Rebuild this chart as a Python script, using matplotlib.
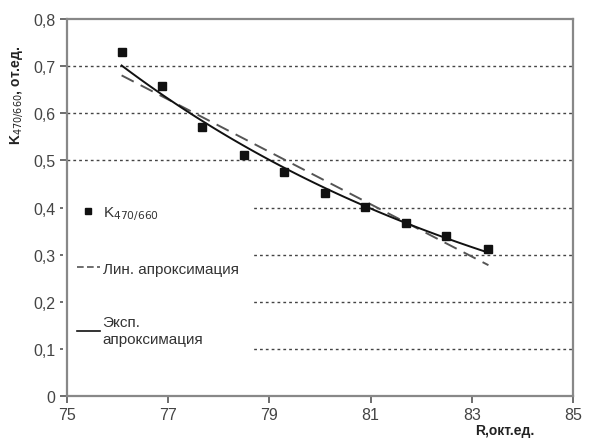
import numpy as np
import matplotlib
matplotlib.use("Agg")
import matplotlib.pyplot as plt
from matplotlib.lines import Line2D

plt.rcParams['font.family'] = ['Liberation Sans', 'DejaVu Sans']

# data
R = [76.08, 76.87, 77.67, 78.49, 79.28, 80.1, 80.9, 81.7, 82.5, 83.33]
K = [0.730, 0.658, 0.571, 0.511, 0.476, 0.431, 0.401, 0.367, 0.340, 0.312]
x_ticks = [75, 77, 79, 81, 83, 85]
y_ticks = [0, 0.1, 0.2, 0.3, 0.4, 0.5, 0.6, 0.7, 0.8]
y_tick_labels = ["0", "0,1", "0,2", "0,3", "0,4", "0,5", "0,6", "0,7", "0,8"]

R_arr = np.array(R)
K_arr = np.array(K)
xs = np.linspace(R_arr.min(), R_arr.max(), 100)
lin = np.polyfit(R_arr, K_arr, 1)
expc = np.polyfit(R_arr, np.log(K_arr), 1)

fig = plt.figure(figsize=(6.05, 4.39), dpi=100)
ax = fig.add_axes([0.1107, 0.0957, 0.8363, 0.8587])

for y in y_ticks[1:-1]:
    ax.axhline(y, color='#444444', lw=1.0, ls=(0, (2, 2.2)), zorder=1)

ax.plot(xs, np.polyval(lin, xs), color='#555555', lw=1.4, ls=(0, (7, 4)), zorder=3)
ax.plot(xs, np.exp(np.polyval(expc, xs)), color='#111111', lw=1.4, zorder=3)
ax.plot(R, K, 's', color='#111111', ms=5.5, zorder=4)

ax.set_xlim(75, 85)
ax.set_ylim(0, 0.8)
ax.set_xticks(x_ticks)
ax.set_yticks(y_ticks)
ax.set_yticklabels(y_tick_labels)
ax.tick_params(axis='both', labelsize=11.5, labelcolor='#444444', color='#555555',
               length=5, width=1.2, direction='out')
ax.tick_params(axis='x', pad=3)
for s in ax.spines.values():
    s.set_color('#888888')
    s.set_linewidth(1.6)
    s.set_zorder(6)

ax.set_ylabel("K$_{470/660}$, от.ед.", fontsize=10, fontweight='bold', color='#222222')
ax.yaxis.set_label_coords(-0.083, 0.80)
ax.set_xlabel("R,окт.ед.", fontsize=10, fontweight='bold', color='#222222')
ax.xaxis.set_label_coords(0.866, -0.072)

handles = [
    Line2D([], [], marker='s', ls='none', color='#111111', ms=5),
    Line2D([], [], color='#555555', lw=1.2, ls=(0, (4, 2))),
    Line2D([], [], color='#111111', lw=1.2),
]
labels = ["K$_{470/660}$", "Лин. апроксимация", "Эксп.\nапроксимация"]
leg = ax.legend(handles, labels, loc='upper left', bbox_to_anchor=(-0.008, 0.546),
                frameon=True, facecolor='white', edgecolor='none', framealpha=1,
                fontsize=11, labelspacing=2.6, handlelength=1.5, handletextpad=0.2,
                borderaxespad=0.0, borderpad=0.9)
leg.get_frame().set_boxstyle('square', pad=0)
for t in leg.get_texts():
    t.set_color('#333333')
leg.set_zorder(2)

fig.savefig("out.png", dpi=100)
